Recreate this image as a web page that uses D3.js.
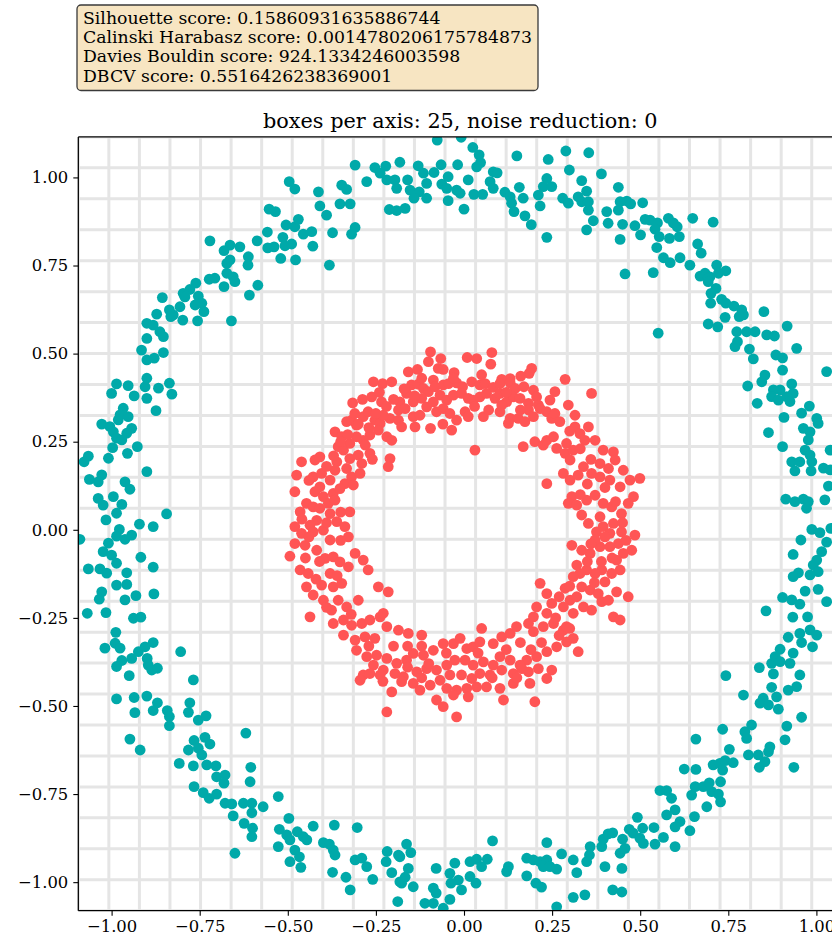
<!DOCTYPE html>
<html><head><meta charset="utf-8">
<script src="https://cdn.jsdelivr.net/npm/d3@7"></script>
<style>body{margin:0;background:#fff} svg{display:block} text{font-family:"DejaVu Serif",serif;fill:#000}</style>
</head><body>
<svg id="chart" width="832" height="942"></svg>
<script>
const scoreLines = [
  "Silhouette score: 0.15860931635886744",
  "Calinski Harabasz score: 0.0014780206175784873",
  "Davies Bouldin score: 924.1334246003598",
  "DBCV score: 0.5516426238369001"
];
const chartTitle = "boxes per axis: 25, noise reduction: 0";
const xTicks = [-1.00, -0.75, -0.50, -0.25, 0.00, 0.25, 0.50, 0.75, 1.00];
const yTicks = [-1.00, -0.75, -0.50, -0.25, 0.00, 0.25, 0.50, 0.75, 1.00];
const xDomain = [-1.0945, 1.0735];
const yDomain = [-1.081, 1.115];
const gridBoxes = 25;
const clusterColors = ["#00a9a9", "#ff5555"];

const outerRing = [
[-0.496,0.988],[-0.480,0.967],[-0.553,0.910],[-0.535,0.903],[-0.505,0.865],[-0.480,0.860],[-0.470,0.881],[-0.558,0.845],[-0.514,0.830],[-0.508,0.806],[-0.489,0.811],[-0.557,0.800],[-0.539,0.803],[-0.520,0.770],[-0.478,0.766],[-0.587,0.820],[-0.721,0.820],[-0.681,0.792],[-0.664,0.808],[-0.636,0.803],[-0.612,0.775],[-0.613,0.751],[-0.673,0.756],[-0.664,0.766],[-0.673,0.728],[-0.655,0.718],[-0.650,0.704],[-0.681,0.690],[-0.585,0.694],[-0.609,0.666],[-0.660,0.593],[-0.723,0.711],[-0.707,0.714],[-0.761,0.700],[-0.778,0.682],[-0.797,0.671],[-0.792,0.661],[-0.754,0.663],[-0.763,0.638],[-0.744,0.643],[-0.738,0.619],[-0.806,0.633],[-0.825,0.610],[-0.798,0.595],[-0.836,0.624],[-0.832,0.605],[-0.756,0.593],[-0.856,0.659],[-0.872,0.612],[-0.900,0.586],[-0.882,0.581],[-0.863,0.562],[-0.853,0.548],[-0.900,0.543],[-0.915,0.510],[-0.853,0.503],[-0.900,0.482],[-0.879,0.487],[-0.900,0.430],[-0.986,0.414],[-0.953,0.409],[-0.905,0.406],[-0.867,0.402],[-0.836,0.416],
[-0.076,1.106],[-0.008,1.114],[0.025,1.085],[0.043,1.064],[0.047,1.042],[0.036,1.030],[0.150,1.061],[0.239,1.051],[0.289,1.075],[0.354,1.070],[0.299,1.021],[0.390,1.010],[-0.309,1.035],[-0.253,1.028],[-0.222,1.032],[-0.182,1.043],[-0.130,1.033],[-0.115,1.012],[-0.065,1.036],[-0.085,1.014],[-0.018,1.036],[-0.276,0.988],[-0.238,1.012],[-0.219,0.993],[-0.196,0.993],[-0.191,0.969],[-0.160,0.993],[-0.153,0.964],[-0.127,0.959],[-0.142,0.941],[-0.106,0.983],[-0.106,0.941],[-0.063,0.981],[-0.045,1.002],[-0.049,0.969],[-0.021,0.964],[-0.011,0.955],[-0.045,0.934],[0.000,0.910],[0.012,0.993],[0.028,0.952],[0.053,0.952],[0.083,1.016],[0.094,1.013],[0.074,0.988],[0.083,0.969],[0.116,0.958],[0.131,0.945],[0.135,0.927],[0.142,0.903],[0.157,0.972],[0.168,0.941],[0.173,0.891],[0.191,0.866],[0.235,0.997],[0.225,0.974],[0.211,0.950],[0.216,0.919],[0.249,0.974],[0.280,0.941],[0.296,0.927],[0.235,0.830],[0.334,0.991],[0.348,0.961],[0.324,0.945],[0.334,0.931],[0.353,0.931],[0.353,0.907],[0.367,0.877],[0.348,0.851],[0.405,0.903],[0.409,0.870],[-0.212,0.909],[-0.191,0.906],[-0.167,0.912],[-0.347,0.978],[-0.333,0.966],[-0.352,0.925],[-0.323,0.925],[-0.413,0.959],[-0.409,0.919],[-0.390,0.893],[-0.309,0.858],[-0.319,0.839],[-0.373,0.843],[-0.432,0.846],[-0.456,0.839],[-0.429,0.805],[-0.382,0.751],
[0.438,0.972],[0.443,0.931],[0.462,0.933],[0.473,0.925],[0.438,0.907],[0.507,0.928],[0.450,0.867],[0.485,0.863],[0.443,0.824],[0.501,0.837],[0.514,0.881],[0.528,0.879],[0.549,0.871],[0.542,0.853],[0.554,0.832],[0.580,0.884],[0.594,0.871],[0.605,0.860],[0.583,0.827],[0.611,0.832],[0.649,0.884],[0.707,0.873],[0.547,0.801],[0.566,0.772],[0.585,0.758],[0.613,0.772],[0.457,0.726],[0.537,0.730],[0.641,0.751],[0.663,0.811],[0.673,0.785],[0.670,0.720],[0.684,0.728],[0.698,0.718],[0.693,0.704],[0.717,0.751],[0.722,0.728],[0.743,0.735],[0.715,0.685],[0.701,0.671],[0.700,0.643],[0.731,0.654],[0.743,0.643],[0.766,0.635],[0.788,0.624],[0.793,0.610],[0.781,0.605],[0.741,0.603],[0.693,0.584],[0.720,0.576],[0.551,0.558],[0.851,0.619],[0.774,0.562],[0.802,0.562],[0.826,0.562],[0.859,0.553],[0.881,0.550],[0.917,0.578],[0.776,0.534],[0.769,0.520],[0.810,0.513],[0.821,0.485],[0.885,0.496],[0.904,0.488],[0.944,0.515],[0.904,0.453],[1.029,0.449],[0.854,0.439],[0.845,0.420],[0.805,0.408],[0.930,0.414],[0.934,0.387],[0.916,0.378],[0.897,0.397],[0.878,0.397],[0.873,0.378],[0.892,0.368],[0.925,0.364],[0.832,0.359],[0.980,0.351],
[0.958,0.331],[1.001,0.316],[1.005,0.302],[0.908,0.319],[0.864,0.276],[0.963,0.288],[0.982,0.278],[0.977,0.255],[0.968,0.226],[0.982,0.212],[0.987,0.193],[0.904,0.236],[1.039,0.226],[0.930,0.193],[0.953,0.193],[0.939,0.167],[0.985,0.167],[1.020,0.175],[1.039,0.170],[1.034,0.124],[0.913,0.087],[0.939,0.080],[0.963,0.087],[0.977,0.080],[0.972,0.061],[1.024,0.085],[0.987,0.001],[1.010,-0.008],[1.041,0.004],[0.956,-0.029],[1.029,-0.035],[0.934,-0.070],[1.015,-0.062],[1.001,-0.086],[0.991,-0.100],[1.005,-0.119],[0.982,-0.128],[0.949,-0.122],[0.934,-0.133],[0.968,-0.174],[1.005,-0.169],[1.029,-0.204],[0.904,-0.192],[0.930,-0.199],[0.953,-0.211],[0.857,-0.230],[0.933,-0.248],[0.975,-0.247],[0.982,-0.284],[1.001,-0.299],[0.989,-0.332],[0.920,-0.305],[0.953,-0.294],[0.958,-0.320],[0.897,-0.339],[0.934,-0.350],[0.925,-0.379],[0.873,-0.379],[0.883,-0.360],[0.838,-0.391],[0.878,-0.409],[0.743,-0.414],[0.953,-0.412],[0.944,-0.445],[0.920,-0.455],[0.873,-0.447],[0.793,-0.469],[0.849,-0.478],[0.887,-0.474],[0.897,-0.374],
[0.840,-0.492],[0.864,-0.497],[0.892,-0.509],[0.958,-0.532],[0.797,-0.573],[0.802,-0.592],[0.816,-0.554],[0.807,-0.639],[0.835,-0.639],[0.838,-0.674],[0.854,-0.658],[0.864,-0.630],[0.868,-0.616],[0.911,-0.596],[0.916,-0.557],[0.936,-0.674],[0.707,-0.667],[0.726,-0.663],[0.741,-0.655],[0.734,-0.682],[0.764,-0.661],[0.728,-0.715],[0.734,-0.566],[0.753,-0.623],[0.658,-0.594],[0.625,-0.679],[0.658,-0.680],[0.646,-0.753],[0.656,-0.729],[0.679,-0.729],[0.696,-0.718],[0.703,-0.743],[0.722,-0.750],[0.728,-0.772],[0.689,-0.786],[0.556,-0.740],[0.575,-0.740],[0.589,-0.762],[0.599,-0.795],[0.575,-0.809],[0.613,-0.828],[0.599,-0.843],[0.641,-0.854],[0.654,-0.814],[0.539,-0.845],[0.542,-0.892],[0.566,-0.873],[0.599,-0.899],[0.443,-0.918],[0.457,-0.904],[0.450,-0.878],[0.469,-0.850],[0.492,-0.816],[0.480,-0.861],[0.499,-0.875],[0.509,-0.890],[0.507,-0.847],[0.391,-0.899],[0.395,-0.878],[0.409,-0.863],[0.422,-0.860],[0.400,-0.956],[0.422,-1.022],[0.448,-1.028],[0.448,-0.961],[0.358,-0.899],[0.356,-0.923],[0.348,-0.942],[0.277,-0.920],[0.310,-0.937],[0.263,-1.070],[0.310,-1.043],[0.343,-1.036],[0.320,-0.973],[0.178,-0.932],[0.197,-0.937],[0.216,-0.942],[0.235,-0.937],[0.225,-0.956],[0.244,-0.956],[0.263,-0.963],[0.235,-0.888],[0.178,-0.982],[0.204,-1.003],[0.220,-1.014],[0.126,-0.956],[0.121,-0.970],[0.081,-0.883],[0.017,-0.942],[0.036,-0.935],[0.066,-0.935],[0.050,-0.956],[0.017,-0.984],[0.034,-1.003],[-0.040,-0.975],[-0.026,-0.946],[-0.016,-0.994],[-0.007,-1.022],[-0.040,-1.049],[-0.079,-0.961],[-0.087,-1.017],[-0.111,-1.060],[-0.087,-1.060],[-0.059,-1.074],[-0.163,-0.892],[-0.151,-0.916],[-0.182,-0.928],[-0.158,-0.961],[-0.167,-0.986],[-0.144,-1.013],[-0.182,-0.999],[-0.079,-1.031],[-0.037,-1.003],[-0.188,-1.055],
[-1.019,-0.336],[-0.990,-0.322],[-0.976,-0.336],[-0.971,-0.371],[-0.986,-0.388],[-0.943,-0.365],[-0.924,-0.346],[-0.905,-0.332],[-0.882,-0.320],[-0.899,-0.365],[-0.896,-0.384],[-0.886,-0.398],[-0.870,-0.393],[-0.804,-0.346],[-0.950,-0.414],[-0.768,-0.426],[-0.986,-0.480],[-0.936,-0.476],[-0.900,-0.472],[-0.934,-0.519],[-0.870,-0.491],[-0.882,-0.513],[-0.842,-0.513],[-0.836,-0.530],[-0.836,-0.556],[-0.778,-0.491],[-0.782,-0.518],[-0.754,-0.540],[-0.732,-0.528],[-0.948,-0.594],[-0.919,-0.625],[-0.766,-0.598],[-0.735,-0.589],[-0.721,-0.608],[-0.754,-0.620],[-0.782,-0.625],[-0.744,-0.639],[-0.730,-0.667],[-0.704,-0.670],[-0.768,-0.670],[-0.808,-0.663],[-0.619,-0.577],[-0.702,-0.701],[-0.678,-0.696],[-0.681,-0.719],[-0.766,-0.729],[-0.740,-0.746],[-0.723,-0.762],[-0.702,-0.750],[-0.605,-0.674],[-0.607,-0.715],[-0.678,-0.776],[-0.659,-0.778],[-0.655,-0.812],[-0.626,-0.776],[-0.602,-0.776],[-0.602,-0.803],[-0.570,-0.786],[-0.527,-0.757],[-0.624,-0.833],[-0.600,-0.847],[-0.602,-0.871],[-0.650,-0.918],[-0.497,-0.819],[-0.524,-0.850],[-0.503,-0.866],[-0.527,-0.899],[-0.494,-0.880],[-0.473,-0.857],[-0.456,-0.871],[-0.428,-0.841],[-0.446,-0.880],[-0.480,-0.909],[-0.467,-0.928],[-0.494,-0.942],[-0.463,-0.958],[-0.399,-0.888],[-0.382,-0.892],[-0.371,-0.909],[-0.366,-0.923],[-0.368,-0.838],[-0.373,-0.972],[-0.303,-0.845],[-0.309,-0.937],[-0.290,-0.932],[-0.276,-0.956],[-0.335,-0.986],[-0.323,-1.022],[-0.259,-0.992],[-0.218,-0.913],[-0.221,-0.942],[-0.186,-0.923],[-0.205,-0.973],[-0.177,-1.003],
[-0.900,0.373],[-1.000,0.387],[-0.936,0.380],[-0.829,0.385],[-0.874,0.338],[-0.967,0.345],[-0.976,0.326],[-0.953,0.321],[-0.981,0.312],[-1.028,0.300],[-1.005,0.293],[-0.995,0.278],[-0.943,0.288],[-0.957,0.274],[-0.986,0.260],[-0.971,0.255],[-0.997,0.233],[-0.927,0.236],[-0.955,0.217],[-1.009,0.203],[-1.066,0.209],[-1.078,0.193],[-0.900,0.165],[-1.063,0.143],[-1.038,0.136],[-1.028,0.156],[-0.962,0.136],[-0.948,0.115],[-1.038,0.089],[-1.024,0.070],[-0.995,0.094],[-0.971,0.072],[-0.986,0.047],[-1.016,0.028],[-0.844,0.045],[-0.978,0.001],[-0.986,-0.018],[-0.962,-0.027],[-0.943,-0.015],[-0.921,0.016],[-0.882,0.009],[-1.090,-0.027],[-1.009,-0.038],[-1.024,-0.062],[-1.000,-0.072],[-0.986,-0.095],[-0.917,-0.078],[-1.066,-0.111],[-1.033,-0.111],[-1.014,-0.123],[-0.957,-0.122],[-0.882,-0.106],[-0.986,-0.157],[-0.957,-0.155],[-1.028,-0.176],[-1.035,-0.197],[-0.962,-0.199],[-0.931,-0.187],[-0.880,-0.182],[-1.069,-0.237],[-1.016,-0.235],[-0.938,-0.251],[-0.917,-0.248],[-0.988,-0.291]
];

const innerRing = [
[-0.095,0.505],[-0.066,0.486],[-0.101,0.477],[-0.073,0.458],[-0.059,0.455],[0.009,0.489],[0.036,0.486],[0.079,0.503],[0.076,0.470],[-0.158,0.448],[-0.132,0.455],[-0.028,0.446],[0.192,0.458],[0.185,0.444],[0.161,0.436],[0.131,0.429],[0.107,0.427],[0.287,0.427],[-0.257,0.420],[-0.231,0.415],[-0.205,0.420],[-0.316,0.360],[-0.288,0.370],[-0.262,0.377],[-0.234,0.363],[-0.149,0.411],[-0.130,0.413],[-0.115,0.401],[-0.101,0.392],[-0.087,0.425],[-0.082,0.406],[-0.059,0.411],[-0.044,0.415],[-0.021,0.417],[-0.004,0.406],[0.022,0.420],[0.045,0.411],[0.060,0.415],[0.083,0.404],[0.102,0.415],[0.131,0.417],[0.145,0.401],[0.170,0.406],[0.197,0.396],
[-0.163,0.387],[-0.182,0.363],[-0.186,0.340],[-0.167,0.344],[-0.144,0.363],[-0.120,0.373],[-0.106,0.349],[-0.087,0.363],[-0.068,0.382],[-0.049,0.368],[-0.030,0.382],[-0.007,0.387],[0.012,0.373],[0.026,0.368],[0.045,0.377],[0.064,0.387],[0.088,0.373],[0.102,0.387],[0.121,0.363],[0.140,0.377],[0.159,0.373],[0.183,0.359],[0.206,0.377],[0.211,0.354],[0.244,0.368],[0.258,0.392],
[-0.210,0.316],[-0.186,0.311],[-0.177,0.292],[-0.139,0.292],[-0.144,0.321],[-0.125,0.325],[-0.095,0.288],[-0.078,0.335],[-0.059,0.344],[-0.040,0.330],[-0.035,0.283],[-0.021,0.311],[0.003,0.335],[0.012,0.321],[0.055,0.321],[0.102,0.335],[0.107,0.354],[0.126,0.302],[0.131,0.316],[0.154,0.316],[0.173,0.307],[0.183,0.340],[0.197,0.321],[0.216,0.344],[0.235,0.335],[0.249,0.316],[0.258,0.330],[0.272,0.307],[0.296,0.354],[0.315,0.325],[0.362,0.387],
[-0.366,0.278],[-0.347,0.264],[-0.333,0.307],[-0.319,0.311],[-0.305,0.297],[-0.286,0.321],[-0.272,0.335],[-0.253,0.311],[-0.238,0.302],[-0.229,0.325],[-0.243,0.283],[-0.219,0.264],[-0.205,0.254],[-0.267,0.269],[-0.286,0.254],[-0.305,0.264],[-0.324,0.245],[-0.357,0.236],[-0.342,0.226],
[0.168,0.236],[0.201,0.250],[0.225,0.240],[0.235,0.254],[0.254,0.264],[0.263,0.231],[0.291,0.245],[0.287,0.217],[0.315,0.292],[0.329,0.273],[0.353,0.292],[0.343,0.254],[0.372,0.254],[0.395,0.226],[0.424,0.221],[0.429,0.198],[0.386,0.188],[0.410,0.174],[0.452,0.169],[0.310,0.226],[0.301,0.198],[0.031,0.226],
[-0.461,0.193],[-0.475,0.155],[-0.423,0.198],[-0.409,0.207],[-0.361,0.193],[-0.324,0.202],[-0.300,0.212],[-0.290,0.188],[-0.267,0.217],[-0.210,0.202],[-0.215,0.179],[-0.428,0.150],[-0.404,0.160],[-0.380,0.141],[-0.366,0.169],[-0.333,0.174],[-0.319,0.150],[-0.295,0.160],[-0.338,0.131],[-0.314,0.127],[-0.409,0.122],[-0.423,0.108],[-0.399,0.094],[-0.371,0.103],[-0.352,0.117],[-0.480,0.108],[-0.447,0.075],[-0.465,0.051],[-0.428,0.065],[-0.409,0.061],[-0.385,0.075],[-0.366,0.084],[-0.380,0.046],[-0.361,0.023],[-0.324,0.051],[-0.418,0.027],[-0.437,0.013],[-0.480,0.009],[-0.461,-0.010],[-0.428,-0.006],[-0.399,-0.001],[-0.380,-0.029],[-0.338,0.009],[-0.328,-0.020],[-0.480,-0.039],[-0.494,-0.075],[-0.451,-0.044],[-0.418,-0.058],[-0.394,-0.081],[-0.371,-0.077],[-0.352,-0.091],[-0.328,-0.105],[-0.465,-0.114],[-0.442,-0.124],[-0.447,-0.162],[-0.428,-0.185],[-0.404,-0.157],[-0.380,-0.124],[-0.371,-0.162],[-0.347,-0.152],[-0.309,-0.067],[-0.286,-0.086],[-0.272,-0.114],[-0.243,-0.162],[-0.215,-0.176],[-0.399,-0.200],[-0.376,-0.228],[-0.357,-0.200],[-0.333,-0.219],[-0.342,-0.256],[-0.437,-0.247],[-0.371,-0.266],
[-0.319,-0.271],[-0.290,-0.266],[-0.267,-0.256],[-0.238,-0.247],[-0.229,-0.237],[-0.219,-0.275],[-0.186,-0.285],[-0.158,-0.294],[-0.120,-0.299],[-0.342,-0.299],[-0.309,-0.313],[-0.281,-0.304],[-0.253,-0.308],[-0.305,-0.342],[-0.276,-0.360],[-0.248,-0.356],[-0.219,-0.365],[-0.191,-0.379],[-0.163,-0.370],[-0.144,-0.351],[-0.115,-0.356],[-0.087,-0.342],[-0.059,-0.323],[-0.030,-0.323],[-0.011,-0.308],[0.008,-0.337],[0.026,-0.332],[0.045,-0.318],[0.050,-0.280],[0.083,-0.323],[0.107,-0.304],[0.131,-0.294],[0.149,-0.275],[0.183,-0.266],[0.197,-0.289],[0.225,-0.275],[0.254,-0.266],[0.282,-0.285],[0.310,-0.308],[0.324,-0.346],[0.291,-0.318],[0.263,-0.332],[0.235,-0.346],[0.206,-0.360],[0.178,-0.370],[0.159,-0.384],[0.131,-0.370],[0.102,-0.360],[0.083,-0.384],[0.055,-0.375],[0.026,-0.384],[0.003,-0.370],[-0.026,-0.370],[-0.049,-0.384],[-0.078,-0.398],[-0.106,-0.394],[-0.134,-0.403],[-0.172,-0.417],[-0.196,-0.408],[-0.229,-0.398],[-0.257,-0.384],[-0.286,-0.412],[-0.295,-0.427],[-0.267,-0.408],[-0.238,-0.412],[-0.205,-0.460],[-0.177,-0.431],[-0.144,-0.436],[-0.125,-0.455],[-0.096,-0.441],[-0.068,-0.427],[-0.040,-0.412],[-0.007,-0.412],[0.022,-0.422],[0.045,-0.408],[0.074,-0.412],[0.107,-0.398],[0.140,-0.408],[0.164,-0.394],[0.183,-0.403],[0.211,-0.394],[0.249,-0.398],[0.235,-0.422],[0.187,-0.436],[0.140,-0.436],[0.102,-0.450],[0.064,-0.446],[0.036,-0.446],[0.008,-0.450],[-0.021,-0.455],[-0.049,-0.450],[-0.078,-0.483],[-0.059,-0.502],[-0.030,-0.469],[0.012,-0.474],[-0.021,-0.531],[-0.219,-0.517],[0.112,-0.483],[0.201,-0.488],
[0.282,0.160],[0.301,0.141],[0.324,0.155],[0.339,0.179],[0.362,0.160],[0.386,0.150],[0.414,0.141],[0.443,0.122],[0.471,0.141],[0.499,0.146],[0.481,0.094],[0.466,0.075],[0.485,-0.015],[0.476,-0.058],[0.452,-0.067],[0.433,-0.086],[0.443,-0.114],[0.419,-0.124],[0.391,-0.114],[0.372,-0.124],[0.348,-0.114],[0.329,-0.124],[0.310,-0.133],[0.287,-0.166],[0.301,-0.200],[0.320,-0.190],[0.334,-0.162],[0.358,-0.171],[0.381,-0.181],[0.400,-0.148],[0.433,-0.176],[0.466,-0.190],[0.424,-0.247],[0.443,-0.256],[0.391,-0.204],[0.362,-0.228],[0.339,-0.219],[0.310,-0.237],[0.282,-0.219],[0.291,-0.275],[0.306,0.094],[0.296,0.075],[0.320,0.070],[0.348,0.084],[0.372,0.098],[0.395,0.075],[0.419,0.065],[0.447,0.046],[0.424,0.018],[0.395,0.009],[0.376,-0.006],[0.353,0.018],[0.334,0.042],[0.386,0.037],[0.414,-0.010],[0.447,-0.006],[0.438,-0.039],[0.414,-0.048],[0.386,-0.048],[0.358,-0.067],[0.334,-0.058],[0.306,-0.044],[0.372,-0.029],[0.235,0.131],[0.216,-0.152],[0.235,-0.181],[0.249,-0.209],[0.235,-0.237],[0.206,-0.219],[0.197,-0.247],
[-0.300,0.300],[-0.270,0.290],[-0.330,0.270],[-0.250,0.330],[-0.220,0.350],[-0.200,0.370],[-0.170,0.400],[-0.240,0.390],[-0.310,0.330],[-0.350,0.250],[-0.370,0.210],[-0.390,0.180],[-0.280,0.240],[-0.260,0.200],[-0.120,0.430],[-0.030,0.430],[0.050,0.440],[0.120,0.390],[-0.140,0.380],[0.030,0.350],[0.070,0.340],[0.160,0.340],[-0.060,0.300],
[0.300,0.280],[0.330,0.230],[0.360,0.200],[0.400,0.120],[0.430,0.080],[0.350,0.130],[0.330,0.100],[0.400,-0.020],[0.360,-0.040],[0.420,-0.080],[0.390,-0.090],[0.350,-0.090],[0.320,-0.100],[0.300,-0.160],[0.270,-0.190],[0.370,-0.150],[0.410,-0.200],[0.260,-0.250],[0.300,-0.280],[0.450,0.020],[0.460,-0.030],
[-0.440,0.140],[-0.460,0.030],[-0.440,-0.020],[-0.410,-0.090],[-0.360,-0.130],[-0.420,-0.140],[-0.390,0.020],[-0.350,0.050],[-0.450,-0.080],[-0.390,-0.220],[-0.320,-0.240],[-0.300,-0.200],[-0.350,-0.030],
[-0.270,-0.330],[-0.200,-0.330],[-0.160,-0.330],[-0.120,-0.330],[-0.100,-0.380],[-0.050,-0.350],[0.040,-0.350],[0.120,-0.340],[0.160,-0.320],[0.220,-0.320],[0.270,-0.300],[0.150,-0.420],[0.080,-0.420],[-0.120,-0.420],[-0.230,-0.430],[-0.160,-0.390],[0.190,-0.340]
];

const svg = d3.select("#chart");
const W = 832, H = 942;
const plot = {left: 78.3, right: 842.3, top: 136.9, bottom: 910.7};

const x = d3.scaleLinear().domain(xDomain).range([plot.left, plot.right]);
const y = d3.scaleLinear().domain(yDomain).range([plot.bottom, plot.top]);

svg.append("rect").attr("width", W).attr("height", H).attr("fill", "#fff");

svg.append("clipPath").attr("id", "clip")
  .append("rect").attr("x", plot.left).attr("y", plot.top)
  .attr("width", plot.right - plot.left).attr("height", plot.bottom - plot.top);

// grid (boxes per axis)
const gx = d3.range(gridBoxes + 1).map(k => xDomain[0] + k * (xDomain[1] - xDomain[0]) / gridBoxes);
const gy = d3.range(gridBoxes + 1).map(k => yDomain[0] + k * (yDomain[1] - yDomain[0]) / gridBoxes);
const grid = svg.append("g").attr("clip-path", "url(#clip)");
grid.selectAll("line.vx").data(gx).join("line")
  .attr("x1", d => x(d)).attr("x2", d => x(d))
  .attr("y1", plot.top).attr("y2", plot.bottom)
  .attr("stroke", "#e5e5e5").attr("stroke-width", 3);
grid.selectAll("line.hy").data(gy).join("line")
  .attr("y1", d => y(d)).attr("y2", d => y(d))
  .attr("x1", plot.left).attr("x2", plot.right)
  .attr("stroke", "#e5e5e5").attr("stroke-width", 3);

// points
const pts = svg.append("g").attr("clip-path", "url(#clip)");
[outerRing, innerRing].forEach((ring, i) => {
  pts.append("g").selectAll("circle").data(ring).join("circle")
    .attr("cx", d => x(d[0])).attr("cy", d => y(d[1]))
    .attr("r", 5.4).attr("fill", clusterColors[i]);
});

// axes
const fmt = d3.format(".2f");
const xAxis = d3.axisBottom(x).tickValues(xTicks).tickFormat(fmt).tickSizeOuter(0).tickSize(5).tickPadding(5);
const yAxis = d3.axisLeft(y).tickValues(yTicks).tickFormat(fmt).tickSizeOuter(0).tickSize(5).tickPadding(5);
const gxA = svg.append("g").attr("transform", `translate(0,${plot.bottom})`).call(xAxis);
const gyA = svg.append("g").attr("transform", `translate(${plot.left},0)`).call(yAxis);
[gxA, gyA].forEach(g => {
  g.select(".domain").remove();
  g.selectAll(".tick line").attr("stroke", "#000").attr("stroke-width", 1.1);
  g.selectAll(".tick text").attr("font-family", "DejaVu Serif").attr("font-size", 16.4).attr("fill", "#000");
});
// spines
const sp = svg.append("g").attr("stroke", "#000").attr("stroke-width", 1.3).attr("fill", "none");
sp.append("line").attr("x1", plot.left).attr("x2", plot.left).attr("y1", plot.top).attr("y2", plot.bottom);
sp.append("line").attr("x1", plot.left).attr("x2", plot.right).attr("y1", plot.bottom).attr("y2", plot.bottom);
sp.append("line").attr("x1", plot.left).attr("x2", plot.right).attr("y1", plot.top).attr("y2", plot.top);
sp.append("line").attr("x1", plot.right).attr("x2", plot.right).attr("y1", plot.top).attr("y2", plot.bottom);

// title
svg.append("text").attr("x", (plot.left + plot.right) / 2).attr("y", 127.5)
  .attr("text-anchor", "middle").attr("font-size", 20.8).text(chartTitle);

// score box
const box = svg.append("g");
box.append("rect").attr("x", 77).attr("y", 5).attr("width", 461).attr("height", 85.5)
  .attr("rx", 4).attr("ry", 4)
  .attr("fill", "#f5deb3").attr("fill-opacity", 0.8)
  .attr("stroke", "#3a3a3a").attr("stroke-width", 1.3);
box.selectAll("text").data(scoreLines).join("text")
  .attr("x", 83).attr("y", (d, i) => 23.5 + i * 19.4)
  .attr("font-size", 17.3).text(d => d);
</script>
</body></html>
